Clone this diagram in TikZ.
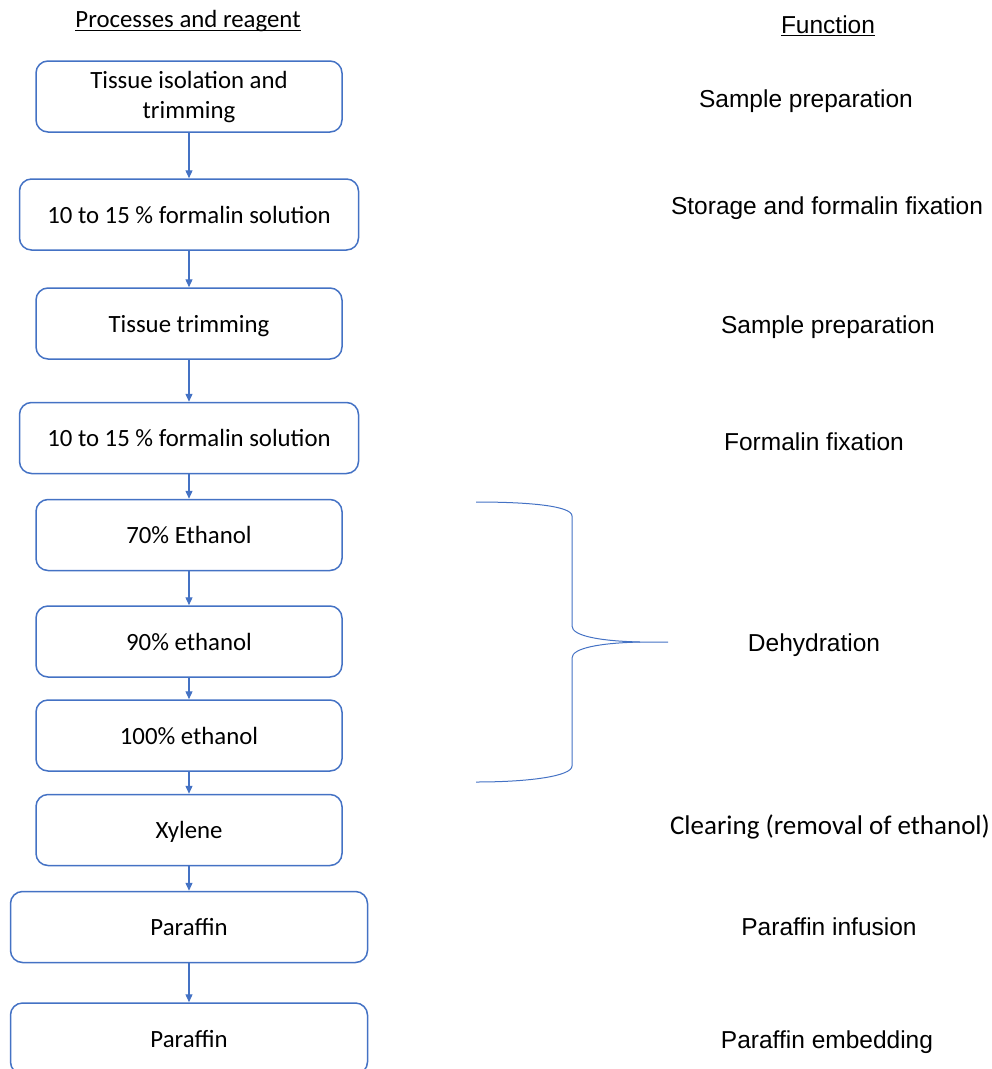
\documentclass[tikz,border=0pt]{standalone}
\usepackage{fontspec}
\setmainfont{Carlito}
\newfontfamily\arialfont{Liberation Sans}
\usetikzlibrary{arrows.meta}
\definecolor{boxblue}{RGB}{68,114,196}
\tikzset{
	procbox/.style={draw=boxblue, line width=1.5pt, rounded corners=12pt, minimum height=71pt, align=center, text height=19pt, text depth=1.5pt, font=\fontsize{24.8}{30}\selectfont},
	flowarrow/.style={draw=boxblue, line width=1.3pt, -{Triangle[length=8pt,width=7pt]}},
	funclabel/.style={anchor=base, inner sep=0pt, font=\arialfont\fontsize{24.5}{30}\selectfont},
	headlabel/.style={anchor=base, inner sep=0pt, font=\fontsize{24.8}{30}\selectfont},
	bracecurve/.style={draw=boxblue, line width=1pt},
}

\begin{document}
\begin{tikzpicture}[x=1pt, y=-1pt]
			%%%%% START %%%%%
			\useasboundingbox (0,0) rectangle (992,1069);
			\clip (0,0) rectangle (992,1069);
			
			\node[headlabel] (hdrproc) at (188,27) {Processes and reagent};
			\draw[line width=1.2pt] ([yshift=-3.5pt]hdrproc.base west) -- ([yshift=-3.5pt]hdrproc.base east);
			\node[headlabel, font=\arialfont\fontsize{24.5}{30}\selectfont] (hdrfunc) at (828,33) {Function};
			\draw[line width=1.2pt] ([yshift=-2.5pt]hdrfunc.base west) -- ([yshift=-2.5pt]hdrfunc.base east);
			
			\node[procbox, minimum width=306pt, text height=46pt, text depth=2pt] (isolate) at (189,96.5) {Tissue isolation and\\trimming};
			\node[procbox, minimum width=339pt] (formalina) at (189,214.5) {10 to 15 \% formalin solution};
			\node[procbox, minimum width=306pt] (trim) at (189,323.5) {Tissue trimming};
			\node[procbox, minimum width=339pt] (formalinb) at (189,438) {10 to 15 \% formalin solution};
			\node[procbox, minimum width=306pt] (etha) at (189,535) {70\% Ethanol};
			\node[procbox, minimum width=306pt] (ethb) at (189,641.5) {90\% ethanol};
			\node[procbox, minimum width=306pt] (ethc) at (189,735.5) {100\% ethanol};
			\node[procbox, minimum width=306pt] (xylene) at (189,830) {Xylene};
			\node[procbox, minimum width=357pt] (paraffina) at (189,927) {Paraffin};
			\node[procbox, minimum width=357pt] (paraffinb) at (189,1038.5) {Paraffin};
			
			\draw[flowarrow] (isolate) -- (formalina);
			\draw[flowarrow] (formalina) -- (trim);
			\draw[flowarrow] (trim) -- (formalinb);
			\draw[flowarrow] (formalinb) -- (etha);
			\draw[flowarrow] (etha) -- (ethb);
			\draw[flowarrow] (ethb) -- (ethc);
			\draw[flowarrow] (ethc) -- (xylene);
			\draw[flowarrow] (xylene) -- (paraffina);
			\draw[flowarrow] (paraffina) -- (paraffinb);
			
			\draw[bracecurve] (476,502) .. controls (530,502) and (572,506) .. (572,516) -- (572,626)
				.. controls (572,636) and (600,641) .. (640,642) -- (668,642);
			\draw[bracecurve] (640,642) .. controls (600,643) and (572,648) .. (572,658) -- (572,766)
				.. controls (572,776) and (530,782) .. (476,782);
			
			\node[funclabel] (fprepa) at (806,107) {Sample preparation};
			\node[funclabel] (fstore) at (827,214) {Storage and formalin fixation};
			\node[funclabel] (fprepb) at (828,333) {Sample preparation};
			\node[funclabel] (ffix) at (814,450) {Formalin fixation};
			\node[funclabel] (fdehyd) at (814,651) {Dehydration};
			\node[headlabel, font=\fontsize{27}{32}\selectfont] (fclear) at (830,834) {Clearing (removal of ethanol)};
			\node[funclabel] (finfuse) at (829,935) {Paraffin infusion};
			\node[funclabel] (fembed) at (827,1048) {Paraffin embedding};
			
			%%%%% END %%%%%
\end{tikzpicture}
\end{document}
